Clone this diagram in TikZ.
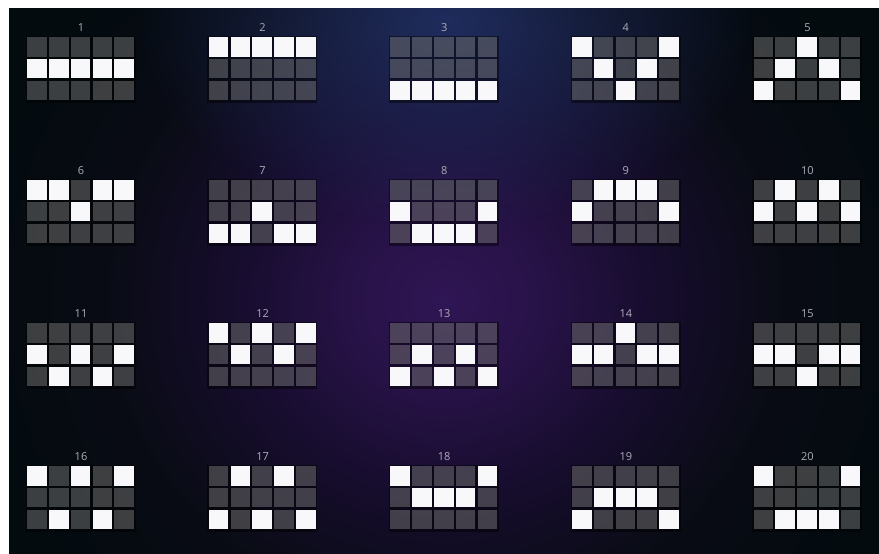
\documentclass[tikz,border=0pt]{standalone}
\usepackage{fontspec}
\setsansfont{Open Sans}
\usetikzlibrary{fadings}
\definecolor{cornerc}{RGB}{3,11,15}
\definecolor{blueglow}{RGB}{34,50,104}
\definecolor{litc}{RGB}{248,248,250}
\definecolor{numc}{RGB}{172,174,186}
\pgfdeclareradialshading{bgshade}{\pgfpoint{0bp}{0bp}}{rgb(0bp)=(0.185,0.085,0.33); rgb(5bp)=(0.155,0.072,0.28); rgb(11bp)=(0.09,0.05,0.18); rgb(18bp)=(0.035,0.045,0.08); rgb(25bp)=(0.012,0.043,0.06); rgb(50bp)=(0.012,0.043,0.06)}
\tikzfading[name=softglow, inner color=transparent!0, outer color=transparent!100]
\tikzset{
  cellbase/.style={minimum width=19.5pt, minimum height=19.4pt, inner sep=0pt, anchor=north west, draw=none},
  litcell/.style={cellbase, fill=litc},
  darkcell/.style={cellbase, fill=white, fill opacity=0.23},
  numlabel/.style={font=\sffamily\fontsize{11}{11}\selectfont, text=numc, inner sep=0pt, anchor=center},
  backing/.style={fill=black, opacity=0.45}
}
\begin{document}
\begin{tikzpicture}[x=1pt,y=1pt]
\useasboundingbox (0,0) rectangle (879,-554);
\fill[white] (0,0) rectangle (879,-554);
\begin{scope}
  \clip (9,-8) rectangle (879,-554);
  \fill[cornerc] (9,-8) rectangle (879,-554);
  \shade[shading=bgshade] (445,-300) ellipse [x radius=470, y radius=440];
  \fill[blueglow, path fading=softglow, opacity=0.85] (445,-20) ellipse [x radius=310, y radius=210];
\end{scope}
\foreach \n/\a/\b/\c/\d/\e in {
  1/1/1/1/1/1, 2/0/0/0/0/0, 3/2/2/2/2/2, 4/0/1/2/1/0, 5/2/1/0/1/2,
  6/0/0/1/0/0, 7/2/2/1/2/2, 8/1/2/2/2/1, 9/1/0/0/0/1, 10/1/0/1/0/1,
  11/1/2/1/2/1, 12/0/1/0/1/0, 13/2/1/2/1/2, 14/1/1/0/1/1, 15/1/1/2/1/1,
  16/0/2/0/2/0, 17/2/0/2/0/2, 18/0/1/1/1/0, 19/2/1/1/1/2, 20/0/2/2/2/0}{
  \pgfmathtruncatemacro\gc{mod(\n-1,5)}
  \pgfmathtruncatemacro\gr{(\n-1)/5}
  \pgfmathsetmacro\gx{27+181.6*\gc}
  \pgfmathsetmacro\gy{37+143*\gr}
  \fill[backing] (\gx-1.2,-\gy+1.2) rectangle (\gx+108.7,-\gy-66.3);
  \node[numlabel] (num\n) at (\gx+54,-\gy+9) {\n};
  \foreach \k/\v in {0/\a,1/\b,2/\c,3/\d,4/\e}{
    \foreach \r in {0,1,2}{
      \ifnum\r=\v\relax\tikzset{cur/.style={litcell}}\else\tikzset{cur/.style={darkcell}}\fi
      \node[cur] (c\n-\k-\r) at (\gx+21.8*\k,-\gy-21.7*\r) {};
    }
  }
}
\end{tikzpicture}
\end{document}
